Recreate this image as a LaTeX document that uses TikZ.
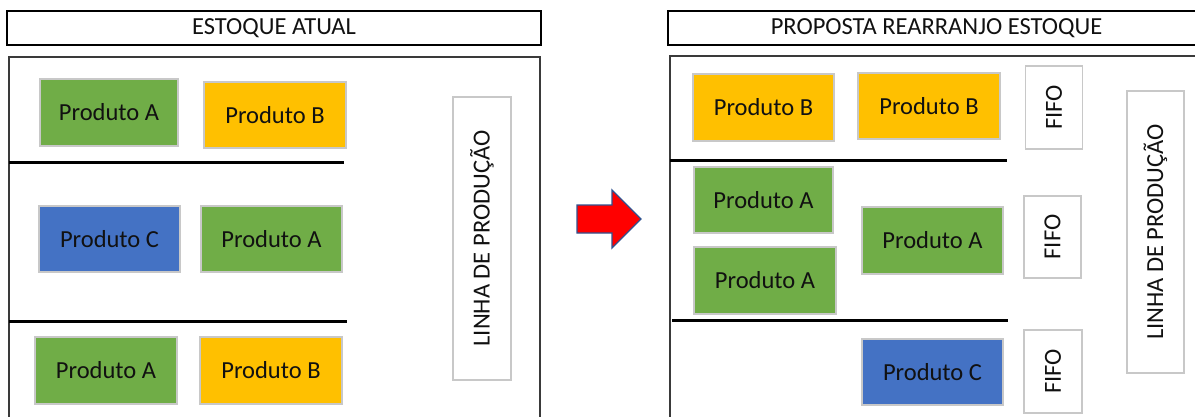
\documentclass[tikz,border=0pt]{standalone}
\usepackage{fontspec}
\setmainfont{Carlito}
\definecolor{prodA}{HTML}{70AD47}
\definecolor{prodB}{HTML}{FFC000}
\definecolor{prodC}{HTML}{4472C4}
\definecolor{edgegray}{HTML}{C8C8C8}
\definecolor{framegray}{HTML}{3A3A3A}
\definecolor{arrowedge}{HTML}{2F528F}
\definecolor{inktext}{HTML}{111111}
\tikzset{
  prod/.style={draw=edgegray, line width=1.2pt, inner sep=0pt, text=inktext,
    font=\fontsize{24.5}{27}\selectfont},
  titlebox/.style={draw=black, line width=2.8pt, inner sep=0pt,
    font=\fontsize{24.5}{27}\selectfont, text=inktext},
  frame/.style={draw=framegray, line width=1.6pt},
  shelf/.style={draw=black, line width=3pt},
  label box/.style={draw=edgegray, line width=1.2pt, fill=white, inner sep=0pt,
    text=inktext, font=\fontsize{24.5}{27}\selectfont},
}
\newcommand{\vtext}[1]{\rotatebox{90}{#1}}
\begin{document}
\begin{tikzpicture}[x=1pt,y=-1pt]
\useasboundingbox (0,0) rectangle (1195,416);
\clip (0,0) rectangle (1195,416);

% ---- current stock ----
\node[titlebox, minimum width=534, minimum height=34] (tleft) at (274,28) {ESTOQUE ATUAL};
\draw[frame] (9,57) rectangle (540,430);

\node[prod, fill=prodA, minimum width=138, minimum height=67] (la1) at (109,112.5) {Produto A};
\node[prod, fill=prodB, minimum width=142, minimum height=66] (lb1) at (275,115) {Produto B};
\coordinate (ls1a) at (9,162);
\coordinate (ls1b) at (344,162);
\draw[shelf] (ls1a) -- (ls1b);

\node[prod, fill=prodC, minimum width=141, minimum height=66] (lc1) at (109.5,239) {Produto C};
\node[prod, fill=prodA, minimum width=141, minimum height=66] (la2) at (271.5,239) {Produto A};
\coordinate (ls2a) at (9,321);
\coordinate (ls2b) at (347,321);
\draw[shelf] (ls2a) -- (ls2b);

\node[prod, fill=prodA, minimum width=142, minimum height=67] (la3) at (106,370.5) {Produto A};
\node[prod, fill=prodB, minimum width=142, minimum height=67] (lb2) at (271,370.5) {Produto B};

\node[label box, minimum width=58, minimum height=283] (lline) at (482,238.5) {\vtext{LINHA DE PRODUÇÃO}};

% ---- arrow between the two layouts ----
\draw[fill=red, draw=arrowedge, line width=1.3pt, line join=miter]
  (577,205) -- (612,205) -- (612,190) -- (641,219) -- (612,248) -- (612,233) -- (577,233) -- cycle;

% ---- proposed stock ----
\node[titlebox, minimum width=537, minimum height=34] (tright) at (936.5,28) {PROPOSTA REARRANJO ESTOQUE};
\draw[frame] (670,56) rectangle (1215,430);

\node[prod, fill=prodB, minimum width=141, minimum height=67] (rb1) at (763.5,107.5) {Produto B};
\node[prod, fill=prodB, minimum width=142, minimum height=66] (rb2) at (929,106) {Produto B};
\node[label box, minimum width=57, minimum height=83] (f1) at (1054,107.5) {\vtext{FIFO}};
\coordinate (rs1a) at (670,160);
\coordinate (rs1b) at (1007,160);
\draw[shelf] (rs1a) -- (rs1b);

\node[prod, fill=prodA, minimum width=139, minimum height=66] (ra1) at (763.5,200) {Produto A};
\node[prod, fill=prodA, minimum width=142, minimum height=67] (ra2) at (765,280.5) {Produto A};
\node[prod, fill=prodA, minimum width=141, minimum height=67] (ra3) at (932.5,240.5) {Produto A};
\node[label box, minimum width=57, minimum height=82] (f2) at (1052.5,237) {\vtext{FIFO}};
\coordinate (rs2a) at (672,320);
\coordinate (rs2b) at (1008,320);
\draw[shelf] (rs2a) -- (rs2b);

\node[prod, fill=prodC, minimum width=141, minimum height=66] (rc1) at (932.5,372) {Produto C};
\node[label box, minimum width=58, minimum height=83] (f3) at (1053,371.5) {\vtext{FIFO}};

\node[label box, minimum width=57, minimum height=282] (rline) at (1155.5,232) {\vtext{LINHA DE PRODUÇÃO}};
\end{tikzpicture}
\end{document}
